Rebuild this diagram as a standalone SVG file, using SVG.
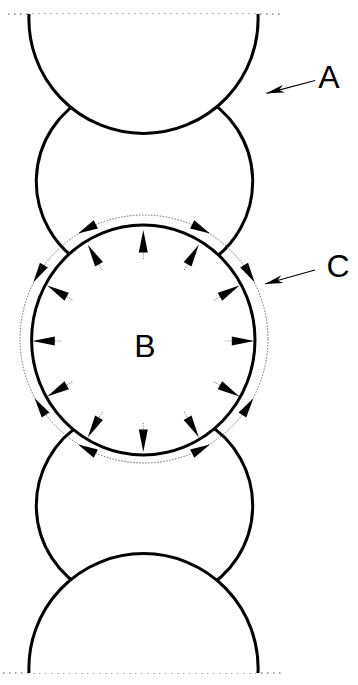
<svg xmlns="http://www.w3.org/2000/svg" width="358" height="685" viewBox="0 0 358 685">
<style>
.cell{fill:none;stroke:#000;stroke-width:3}
.cellw{fill:#fff;stroke:#000;stroke-width:3}
.edge{fill:none;stroke:#888;stroke-width:1.3;stroke-dasharray:1.5 4.5}
.memb{fill:none;stroke:#666;stroke-width:1;stroke-dasharray:1.5 1.5}
.tail{stroke:#777;stroke-width:1;stroke-dasharray:1 1.5}
.lbl{font-family:"Liberation Sans",Arial,sans-serif;font-size:32px;fill:#000;text-anchor:middle}
.lead{fill:none;stroke:#000;stroke-width:1.2}
</style>
<defs>
<g id="ray"><line class="tail" x1="82" y1="0" x2="90" y2="0"/><path d="M111,0 L88.5,-4.5 L88.5,4.5 Z" fill="#000"/></g>
<path id="tan" d="M10,0 L-10,-4.6 L-10,4.6 Z" fill="#000"/>
<marker id="ah" viewBox="-20 -5 21 10" refX="0" refY="0" markerWidth="21" markerHeight="10" orient="auto" markerUnits="userSpaceOnUse"><path d="M0,0 L-18,-4 L-13,0 L-18,4 Z" fill="#000"/></marker>
</defs>
<g id="borders">
<line class="edge" x1="8" y1="14" x2="284" y2="14"/>
<line class="edge" x1="3" y1="673" x2="284" y2="673"/>
</g>
<g id="cell-upper">
<path class="cell" d="M90.3,95 A96.3,96.3 0 0,0 84.6,265"/>
<path class="cell" d="M198.7,95 A96.3,96.3 0 0,1 204.4,265"/>
</g>
<g id="cell-lower">
<path class="cell" d="M84.6,422 A96.3,96.3 0 0,0 90.3,592"/>
<path class="cell" d="M204.4,422 A96.3,96.3 0 0,1 198.7,592"/>
</g>
<g id="cell-top">
<path class="cellw" d="M29,14 A114.6,114.6 0 1,0 258,14"/>
</g>
<g id="cell-bottom">
<path class="cellw" d="M29,673 A114.6,114.6 0 1,1 258,673"/>
</g>
<g id="cell-B">
<ellipse class="cellw" cx="143.3" cy="340" rx="111.7" ry="115"/>
<g id="rays">
<use href="#ray" transform="translate(143.3,341) rotate(0)"/>
<use href="#ray" transform="translate(143.3,341) rotate(30)"/>
<use href="#ray" transform="translate(143.3,341) rotate(60)"/>
<use href="#ray" transform="translate(143.3,341) rotate(90)"/>
<use href="#ray" transform="translate(143.3,341) rotate(120)"/>
<use href="#ray" transform="translate(143.3,341) rotate(150)"/>
<use href="#ray" transform="translate(143.3,341) rotate(180)"/>
<use href="#ray" transform="translate(143.3,341) rotate(210)"/>
<use href="#ray" transform="translate(143.3,341) rotate(240)"/>
<use href="#ray" transform="translate(143.3,341) rotate(270)"/>
<use href="#ray" transform="translate(143.3,341) rotate(300)"/>
<use href="#ray" transform="translate(143.3,341) rotate(330)"/>
</g>
<text class="lbl" x="145" y="357">B</text>
</g>
<g id="membrane-C">
<circle class="memb" cx="144" cy="339" r="124"/>
<use href="#tan" transform="translate(144,339) rotate(242.6) translate(124,0) rotate(-90)"/>
<use href="#tan" transform="translate(144,339) rotate(211.8) translate(124,0) rotate(-90)"/>
<use href="#tan" transform="translate(144,339) rotate(146.9) translate(124,0) rotate(90)"/>
<use href="#tan" transform="translate(144,339) rotate(117.4) translate(124,0) rotate(90)"/>
<use href="#tan" transform="translate(144,339) rotate(297.4) translate(124,0) rotate(90)"/>
<use href="#tan" transform="translate(144,339) rotate(328.2) translate(124,0) rotate(90)"/>
<use href="#tan" transform="translate(144,339) rotate(33.1) translate(124,0) rotate(-90)"/>
<use href="#tan" transform="translate(144,339) rotate(62.6) translate(124,0) rotate(-90)"/>
</g>
<g id="connectors">
<line class="lead" x1="315" y1="80.5" x2="266.5" y2="93.3" marker-end="url(#ah)"/>
<line class="lead" x1="315" y1="270" x2="265" y2="284" marker-end="url(#ah)"/>
</g>
<g id="labels">
<text class="lbl" x="329" y="88">A</text>
<text class="lbl" x="338" y="276.5">C</text>
</g>
</svg>
